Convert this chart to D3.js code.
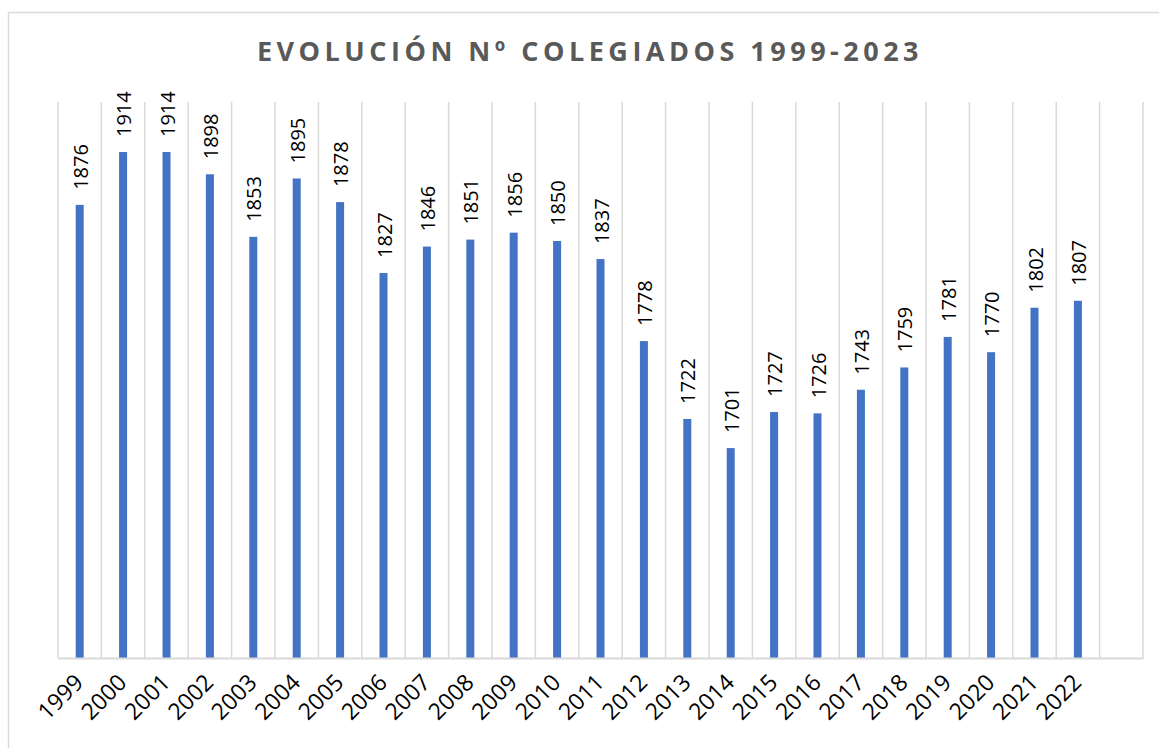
<!DOCTYPE html>
<html lang="es">
<head>
<meta charset="utf-8">
<title>Evolución colegiados</title>
<script src="https://cdn.jsdelivr.net/npm/d3@7"></script>
<style>
  body { margin: 0; background: #fff; }
  text { font-family: "Open Sans", "Noto Sans", sans-serif; }
</style>
</head>
<body>
<script>
// datos
var years = ["1999","2000","2001","2002","2003","2004","2005","2006","2007","2008","2009","2010",
             "2011","2012","2013","2014","2015","2016","2017","2018","2019","2020","2021","2022","2023"];
var colegiados = [1876,1914,1914,1898,1853,1895,1878,1827,1846,1851,1856,1850,
                  1837,1778,1722,1701,1727,1726,1743,1759,1781,1770,1802,1807,null];
var yRange = [1550, 1950];
var titulo = "EVOLUCIÓN Nº COLEGIADOS 1999-2023";

var w = 1159, h = 748;
var plotLeft = 58, plotRight = 1143, plotTop = 102, plotBottom = 658;

var svg = d3.select("body").append("svg")
  .attr("width", w)
  .attr("height", h);

// marco del grafico
svg.append("rect")
  .attr("x", 8.5).attr("y", 12.5)
  .attr("width", 1200).attr("height", 800)
  .attr("fill", "none")
  .attr("stroke", "#d9d9d9")
  .attr("stroke-width", 1.5);

svg.append("text")
  .attr("x", 590).attr("y", 61)
  .attr("text-anchor", "middle")
  .attr("font-size", "27px")
  .attr("font-weight", "bold")
  .attr("letter-spacing", "4.5px")
  .attr("fill", "#595959")
  .text(titulo);

var xScale = d3.scaleBand()
  .domain(years)
  .range([plotLeft, plotRight])
  .padding(0);

var yScale = d3.scaleLinear()
  .domain(yRange)
  .range([plotBottom, plotTop]);

// lineas de division verticales
var bounds = years.map(function(d) { return xScale(d); }).concat([plotRight]);
svg.selectAll("line.grid")
  .data(bounds)
  .enter()
  .append("line")
  .attr("class", "grid")
  .attr("x1", function(d) { return d; })
  .attr("x2", function(d) { return d; })
  .attr("y1", plotTop)
  .attr("y2", plotBottom)
  .attr("stroke", "#d9d9d9")
  .attr("stroke-width", 1.5);

var data = years.map(function(y, i) { return { year: y, value: colegiados[i] }; })
  .filter(function(d) { return d.value != null; });

var barW = 8;
svg.selectAll("rect.bar")
  .data(data)
  .enter()
  .append("rect")
  .attr("class", "bar")
  .attr("x", function(d) { return xScale(d.year) + xScale.bandwidth() / 2 - barW / 2; })
  .attr("y", function(d) { return yScale(d.value); })
  .attr("width", barW)
  .attr("height", function(d) { return plotBottom - yScale(d.value); })
  .attr("fill", "#4472c4");

// etiquetas de valor
svg.selectAll("text.val")
  .data(data)
  .enter()
  .append("text")
  .attr("class", "val")
  .attr("transform", function(d) {
    var cx = xScale(d.year) + xScale.bandwidth() / 2 + 8;
    return "translate(" + cx + "," + (yScale(d.value) - 15) + ") rotate(-90)";
  })
  .attr("font-size", "20px")
  .attr("fill", "#000")
  .text(function(d) { return d.value; });

// eje x
var xAxis = d3.axisBottom(xScale).tickSize(0).tickPadding(0)
  .tickFormat(function(d) { return d == "2023" ? "" : d; });
var gx = svg.append("g")
  .attr("transform", "translate(0," + plotBottom + ")")
  .call(xAxis);
gx.select(".domain")
  .attr("stroke", "#d9d9d9")
  .attr("stroke-width", 2);
gx.selectAll("text")
  .attr("font-size", "23px")
  .attr("fill", "#000")
  .attr("text-anchor", "end")
  .attr("dy", null)
  .attr("y", null)
  .attr("transform", "translate(5,26) rotate(-45)");
</script>
</body>
</html>
